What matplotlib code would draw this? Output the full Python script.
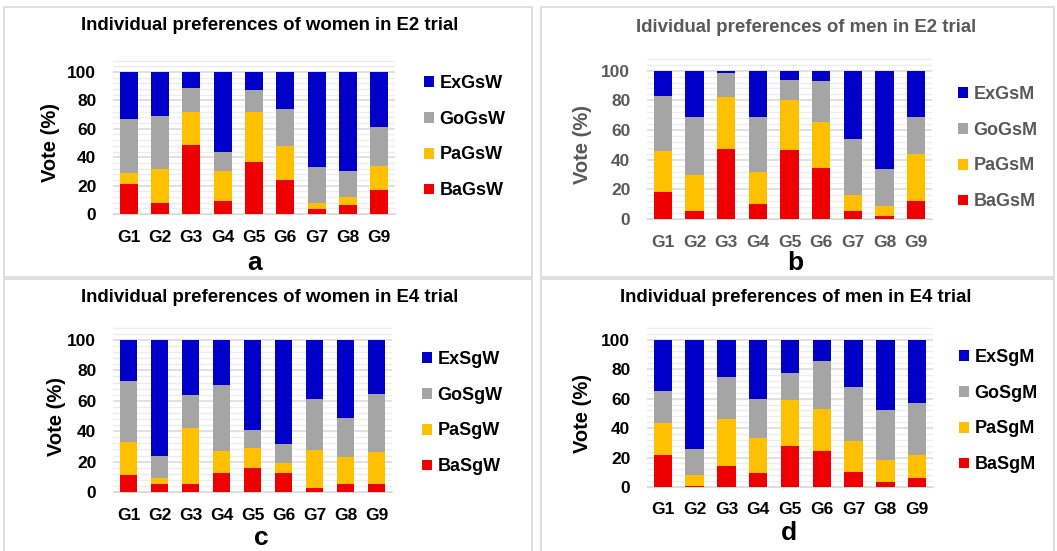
import numpy as np
import matplotlib
matplotlib.use("Agg")
from matplotlib import pyplot as plt
from matplotlib.patches import Rectangle

plt.rcParams['font.family'] = ['Liberation Sans', 'DejaVu Sans']
plt.rcParams['font.weight'] = 'bold'

W, H = 1057, 551
groups = ['G1', 'G2', 'G3', 'G4', 'G5', 'G6', 'G7', 'G8', 'G9']

# panel a : women, E2
a_Ba = [21, 7.5, 48.5, 9, 36.5, 24, 3.5, 6, 17]
a_Pa = [8, 24.5, 23.5, 21, 35.5, 24, 4, 6, 16.5]
a_Go = [38, 37, 17, 14, 15, 26, 25.5, 18.5, 27.5]
a_Ex = [33, 31, 11, 56, 13, 26, 67, 69.5, 39]
# panel b : men, E2
b_Ba = [18.5, 5.5, 47.5, 10, 46.5, 34.5, 5.5, 2, 12]
b_Pa = [27.5, 24, 34.5, 22, 34, 31, 11, 6.5, 32]
b_Go = [37, 39.5, 16.5, 36.5, 13, 27.5, 37.5, 25.5, 24.5]
b_Ex = [17, 31, 1.5, 31.5, 6.5, 7, 46, 66, 31.5]
# panel c : women, E4
c_Ba = [11, 5.5, 5.5, 12.5, 16, 12.5, 2.5, 5.5, 5.5]
c_Pa = [22, 3.5, 36.5, 14.5, 13, 6.5, 25, 17.5, 21]
c_Go = [40, 15, 22, 43.5, 12, 12.5, 33.5, 25.5, 38]
c_Ex = [27, 76, 36, 29.5, 59, 68.5, 39, 51.5, 35.5]
# panel d : men, E4
d_Ba = [21.5, 1, 14.5, 9.5, 27.5, 24.5, 10.5, 3.5, 6]
d_Pa = [22, 7, 32, 24, 31.5, 28.5, 21, 14.5, 15.5]
d_Go = [21.5, 18, 28.5, 26, 18.5, 32.5, 36.5, 34.5, 35.5]
d_Ex = [35, 74, 25, 40.5, 22.5, 14.5, 32, 47.5, 43]

colors = ['#EE0000', '#FFC000', '#A5A5A5', '#0000C8']

fig = plt.figure(figsize=(W / 100, H / 100), dpi=100)


def px(x0, y0, x1, y1):
    # pixel box (top-left origin) -> figure fraction rect
    return [x0 / W, 1 - y1 / H, (x1 - x0) / W, (y1 - y0) / H]


# panel frames
for (x0, y0, x1, y1) in [(4, 7, 532, 277), (541, 7, 1054, 277),
                         (4, 279, 532, 560), (541, 279, 1054, 560)]:
    fig.add_artist(Rectangle((x0 / W, 1 - y1 / H), (x1 - x0) / W, (y1 - y0) / H,
                             transform=fig.transFigure, fill=False,
                             edgecolor='#D9D9D9', lw=1.2))

panels = [
    dict(data=[a_Ba, a_Pa, a_Go, a_Ex], labels=['BaGsW', 'PaGsW', 'GoGsW', 'ExGsW'],
         title='Individual preferences of women in E2 trial', tpos=(270, 25),
         x0=113, x1=395, y0=214, scale=1.42, ylab=50, gy=237, letter='a', lpos=(255, 263),
         leg=(424, 137), tc='black'),
    dict(data=[b_Ba, b_Pa, b_Go, b_Ex], labels=['BaGsM', 'PaGsM', 'GoGsM', 'ExGsM'],
         title='Idividual preferences of men in E2 trial', tpos=(806, 28),
         x0=647, x1=932, y0=219, scale=1.483, ylab=583, gy=242, letter='b', lpos=(795, 263),
         leg=(958, 148), tc='#595959'),
    dict(data=[c_Ba, c_Pa, c_Go, c_Ex], labels=['BaSgW', 'PaSgW', 'GoSgW', 'ExSgW'],
         title='Individual preferences of women in E4 trial', tpos=(270, 297),
         x0=113, x1=392, y0=492, scale=1.52, ylab=57, gy=515, letter='c', lpos=(261, 538),
         leg=(422, 413), tc='black'),
    dict(data=[d_Ba, d_Pa, d_Go, d_Ex], labels=['BaSgM', 'PaSgM', 'GoSgM', 'ExSgM'],
         title='Individual preferences of men in E4 trial', tpos=(796, 297),
         x0=647, x1=933, y0=487, scale=1.473, ylab=583, gy=510, letter='d', lpos=(789, 533),
         leg=(959, 411), tc='black'),
]

ytop = 109
for p in panels:
    ax = fig.add_axes(px(p['x0'], p['y0'] - ytop * p['scale'], p['x1'], p['y0']))
    x = np.arange(len(groups))
    bottom = np.zeros(len(groups))
    handles = []
    for vals, col, lab in zip(p['data'], colors, p['labels']):
        bars = ax.bar(x, vals, width=0.58, bottom=bottom, color=col, label=lab, zorder=3)
        bottom += np.array(vals)
        handles.append(bars)
    ax.set_xlim(-0.5, len(groups) - 0.5)
    ax.set_ylim(0, ytop)
    ax.set_yticks(np.arange(0, 101, 20))
    ax.set_yticks(np.arange(4, 109, 4), minor=True)
    ax.grid(axis='y', which='major', color='#D9D9D9', lw=1.1, zorder=0)
    ax.grid(axis='y', which='minor', color='#EDEDED', lw=1.0, zorder=0)
    ax.set_xticks(x)
    ax.set_xticklabels([])
    for s in ['top', 'right', 'left']:
        ax.spines[s].set_visible(False)
    ax.spines['bottom'].set_color('#D9D9D9')
    ax.tick_params(axis='both', which='both', length=0)
    ax.tick_params(axis='y', pad=12, labelsize=12.5, labelcolor=p['tc'])
    for lab in ax.get_yticklabels():
        lab.set_fontweight('bold')
    ax.set_facecolor('none')

    for i, g in enumerate(groups):
        xf = (p['x0'] + (i + 0.5) * (p['x1'] - p['x0']) / len(groups)) / W
        fig.text(xf, 1 - p['gy'] / H, g, ha='center', va='center', fontsize=12.5,
                 fontweight='bold', color=p['tc'])

    fig.text(p['ylab'] / W, 1 - (p['y0'] - 50 * p['scale']) / H, 'Vote (%)', rotation=90,
             ha='center', va='center', fontsize=14.5, fontweight='bold', color=p['tc'])
    fig.text(p['tpos'][0] / W, 1 - p['tpos'][1] / H, p['title'], ha='center', va='center',
             fontsize=13.4, fontweight='bold', color=p['tc'])
    fig.text(p['lpos'][0] / W, 1 - p['lpos'][1] / H, p['letter'], ha='center', va='center',
             fontsize=19, fontweight='bold', color='black')

    leg = ax.legend(handles[::-1], p['labels'][::-1], loc='center left',
                    bbox_to_anchor=(p['leg'][0] / W, 1 - p['leg'][1] / H),
                    bbox_transform=fig.transFigure, frameon=False,
                    prop={'size': 13, 'weight': 'bold'}, labelcolor=p['tc'],
                    handlelength=0.55, handleheight=0.55, handletextpad=0.3,
                    labelspacing=1.05, borderpad=0, borderaxespad=0)

fig.savefig('out.png', dpi=100)
